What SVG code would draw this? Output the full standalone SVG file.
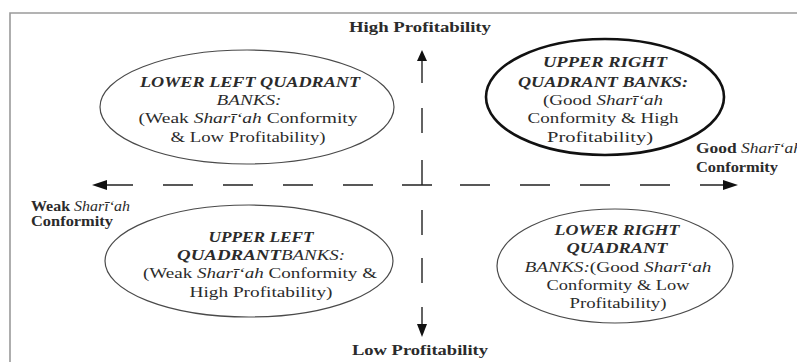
<svg xmlns="http://www.w3.org/2000/svg" width="797" height="362" viewBox="0 0 797 362">
<style>
.t{font-family:"Liberation Serif","Times New Roman",serif;font-size:15.5px;fill:#2b2b2b;text-anchor:middle}
.lab{font-family:"Liberation Serif","Times New Roman",serif;font-size:14px;fill:#2b2b2b;font-weight:bold}
.bi{font-weight:bold;font-style:italic}
.i{font-style:italic;font-weight:normal}
.n{font-style:normal;font-weight:normal}
.ell{fill:none;stroke:#4a4a4a;stroke-width:1.2}
.axis{fill:none;stroke:#222;stroke-width:1.4}
.head{fill:#111}
</style>
<rect width="797" height="362" fill="#fff"/>
<path d="M10,362 V13 H797" fill="none" stroke="#9a9a9a" stroke-width="1.6"/>

<g id="connectors">
  <path class="axis" d="M105,185 H133 M163,185 H193 M223,185 H253 M283,185 H313 M343,185 H373 M402,185 H432 M460,185 H490 M520,185 H550 M580,185 H610 M640,185 H670 M700,185 H724"/>
  <polygon class="head" points="92,185 107,180 107,190"/>
  <polygon class="head" points="738,185 723,180 723,190"/>
  <path class="axis" d="M422,58 V83 M422,108 V133 M422,160 V185 M422,210 V235 M422,258 V283 M422,307 V324"/>
  <polygon class="head" points="422,50 417,61 427,61"/>
  <polygon class="head" points="422,337 417,324 427,324"/>
</g>

<g id="axis-labels">
  <text class="lab" x="420" y="32" text-anchor="middle" textLength="142" lengthAdjust="spacingAndGlyphs">High Profitability</text>
  <text class="lab" x="420" y="355" text-anchor="middle" textLength="136" lengthAdjust="spacingAndGlyphs">Low Profitability</text>
  <text class="lab" x="696" y="153" textLength="106" lengthAdjust="spacingAndGlyphs">Good <tspan class="i">Sharī‘ah</tspan></text>
  <text class="lab" x="696" y="172" textLength="82" lengthAdjust="spacingAndGlyphs">Conformity</text>
  <text class="lab" x="31" y="211" textLength="99" lengthAdjust="spacingAndGlyphs">Weak <tspan class="i">Sharī‘ah</tspan></text>
  <text class="lab" x="31" y="226" textLength="82" lengthAdjust="spacingAndGlyphs">Conformity</text>
</g>

<g id="lower-left-quadrant">
  <ellipse class="ell" cx="247" cy="107" rx="147" ry="57"/>
  <text class="t bi" x="250" y="87" textLength="220" lengthAdjust="spacingAndGlyphs">LOWER LEFT QUADRANT</text>
  <text class="t i" x="249" y="105" textLength="65" lengthAdjust="spacingAndGlyphs">BANKS:</text>
  <text class="t" x="248" y="123" textLength="219" lengthAdjust="spacingAndGlyphs">(Weak <tspan class="i">Sharī‘ah</tspan> Conformity</text>
  <text class="t" x="248" y="142" textLength="155" lengthAdjust="spacingAndGlyphs">&amp; Low Profitability)</text>
</g>

<g id="upper-right-quadrant">
  <ellipse cx="605" cy="97" rx="119" ry="58" fill="none" stroke="#111" stroke-width="2.6"/>
  <text class="t bi" x="605" y="67" textLength="124" lengthAdjust="spacingAndGlyphs">UPPER RIGHT</text>
  <text class="t bi" x="603" y="87" textLength="170" lengthAdjust="spacingAndGlyphs">QUADRANT BANKS:</text>
  <text class="t" x="603" y="105" textLength="120" lengthAdjust="spacingAndGlyphs">(Good <tspan class="i">Sharī‘ah</tspan></text>
  <text class="t" x="603" y="123" textLength="151" lengthAdjust="spacingAndGlyphs">Conformity &amp; High</text>
  <text class="t" x="600" y="142" textLength="106" lengthAdjust="spacingAndGlyphs">Profitability)</text>
</g>

<g id="upper-left-quadrant">
  <ellipse class="ell" cx="249" cy="261" rx="144" ry="56"/>
  <text class="t bi" x="261" y="242" textLength="105" lengthAdjust="spacingAndGlyphs">UPPER LEFT</text>
  <text class="t bi" x="261" y="260" textLength="168" lengthAdjust="spacingAndGlyphs">QUADRANT<tspan class="i">BANKS:</tspan></text>
  <text class="t" x="260" y="278" textLength="234" lengthAdjust="spacingAndGlyphs">(Weak <tspan class="i">Sharī‘ah</tspan> Conformity &amp;</text>
  <text class="t" x="261" y="297" textLength="143" lengthAdjust="spacingAndGlyphs">High Profitability)</text>
</g>

<g id="lower-right-quadrant">
  <ellipse class="ell" cx="615" cy="266" rx="118" ry="57"/>
  <text class="t bi" x="617" y="235" textLength="125" lengthAdjust="spacingAndGlyphs">LOWER RIGHT</text>
  <text class="t bi" x="617" y="253" textLength="101" lengthAdjust="spacingAndGlyphs">QUADRANT</text>
  <text class="t i" x="618" y="272" textLength="187" lengthAdjust="spacingAndGlyphs">BANKS:<tspan class="n">(Good </tspan>Sharī‘ah</text>
  <text class="t" x="618" y="290" textLength="143" lengthAdjust="spacingAndGlyphs">Conformity &amp; Low</text>
  <text class="t" x="618" y="308" textLength="97" lengthAdjust="spacingAndGlyphs">Profitability)</text>
</g>
</svg>
